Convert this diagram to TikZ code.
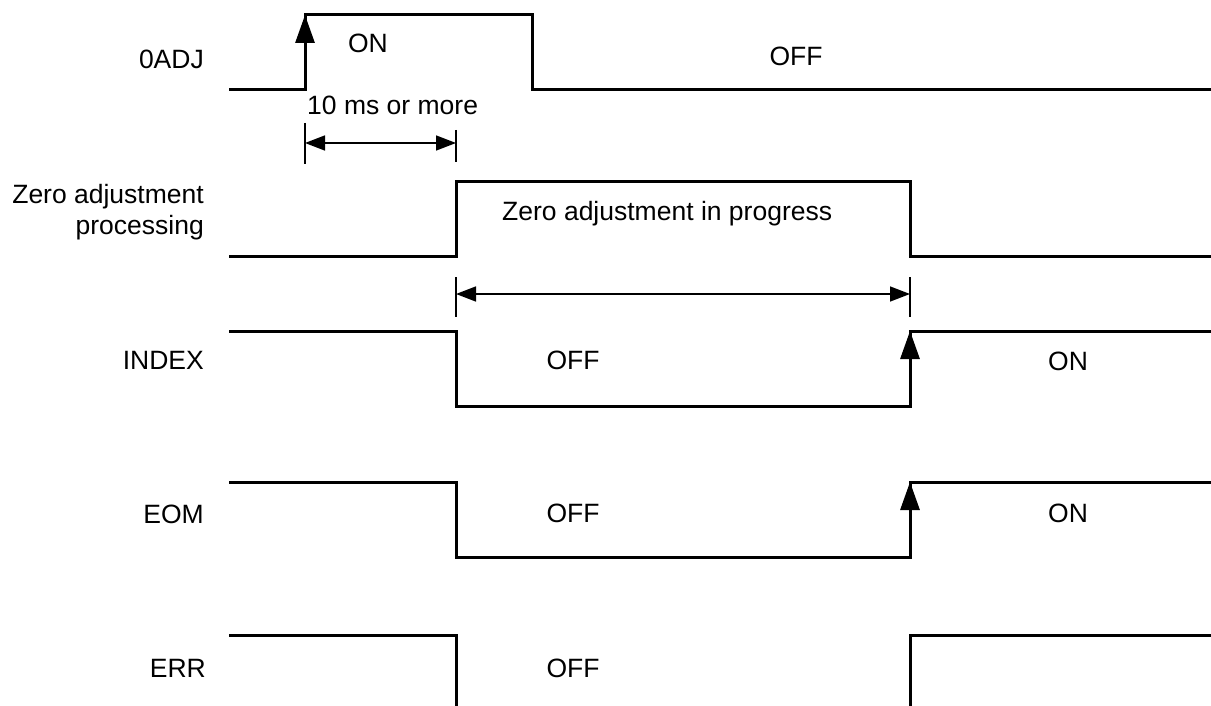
\documentclass[tikz,border=0pt]{standalone}
\usepackage{fontspec}
\setmainfont{Liberation Sans}
\usetikzlibrary{arrows.meta}

\begin{document}
\begin{tikzpicture}[
  x=1pt, y=-1pt,
  signal/.style={line width=3pt, line join=miter},
  edgearrow/.style={line width=3pt, -{Triangle[length=28pt,width=19pt]}},
  dimline/.style={line width=1.5pt,
                  {Triangle[length=20pt,width=15pt]}-{Triangle[length=20pt,width=15pt]}},
  dimtick/.style={line width=1.3pt},
  lbl/.style={font=\fontsize{26.5}{31}\selectfont, inner sep=0pt}
]
\useasboundingbox (0,0) rectangle (1211,706);

% signal names
\node[lbl, anchor=base east] (n0adj) at (204,69) {0ADJ};
\node[lbl, anchor=east, align=right] (nzero) at (204,212) {Zero adjustment\\processing};
\node[lbl, anchor=base east] (nindex) at (204,369) {INDEX};
\node[lbl, anchor=base east] (neom) at (204,523) {EOM};
\node[lbl, anchor=base east] (nerr) at (206,677) {ERR};

% waveforms
\draw[signal] (229,90) -- (305,90) -- (305,15) -- (532,15) -- (532,90) -- (1211,90);
\draw[signal] (229,256) -- (456,256) -- (456,182) -- (910,182) -- (910,256) -- (1211,256);
\draw[signal] (229,331) -- (456,331) -- (456,406) -- (910,406) -- (910,331) -- (1211,331);
\draw[signal] (229,482) -- (456,482) -- (456,557) -- (910,557) -- (910,482) -- (1211,482);
\draw[signal] (229,635) -- (456,635) -- (456,708);
\draw[signal] (910,708) -- (910,635) -- (1211,635);

% rising edges
\coordinate (adjlo) at (305,90);  \coordinate (adjhi) at (305,15);
\coordinate (idxlo) at (910,406); \coordinate (idxhi) at (910,331);
\coordinate (eomlo) at (910,557); \coordinate (eomhi) at (910,482);
\draw[edgearrow] (adjlo) -- (adjhi);
\draw[edgearrow] (idxlo) -- (idxhi);
\draw[edgearrow] (eomlo) -- (eomhi);

% state texts
\node[lbl, anchor=base] (adjon) at (368,53) {ON};
\node[lbl, anchor=base] (adjoff) at (796,66) {OFF};
\node[lbl, anchor=base west] (tmin) at (307,115) {10 ms or more};
\node[lbl, anchor=base west] (zinprog) at (502,220) {Zero adjustment in progress};
\node[lbl, anchor=base] (idxoff) at (573,369) {OFF};
\node[lbl, anchor=base] (idxon) at (1068,370) {ON};
\node[lbl, anchor=base] (eomoff) at (573,522) {OFF};
\node[lbl, anchor=base] (eomon) at (1068,522) {ON};
\node[lbl, anchor=base] (erroff) at (573,677) {OFF};

% dimensions
\draw[dimtick] (305,123) -- (305,164);
\draw[dimtick] (456,130) -- (456,162);
\coordinate (d1a) at (305,143); \coordinate (d1b) at (456,143);
\draw[dimline] (d1a) -- (d1b);
\draw[dimtick] (456,277) -- (456,317);
\draw[dimtick] (910,277) -- (910,317);
\coordinate (d2a) at (456,294); \coordinate (d2b) at (910,294);
\draw[dimline] (d2a) -- (d2b);
\end{tikzpicture}
\end{document}
